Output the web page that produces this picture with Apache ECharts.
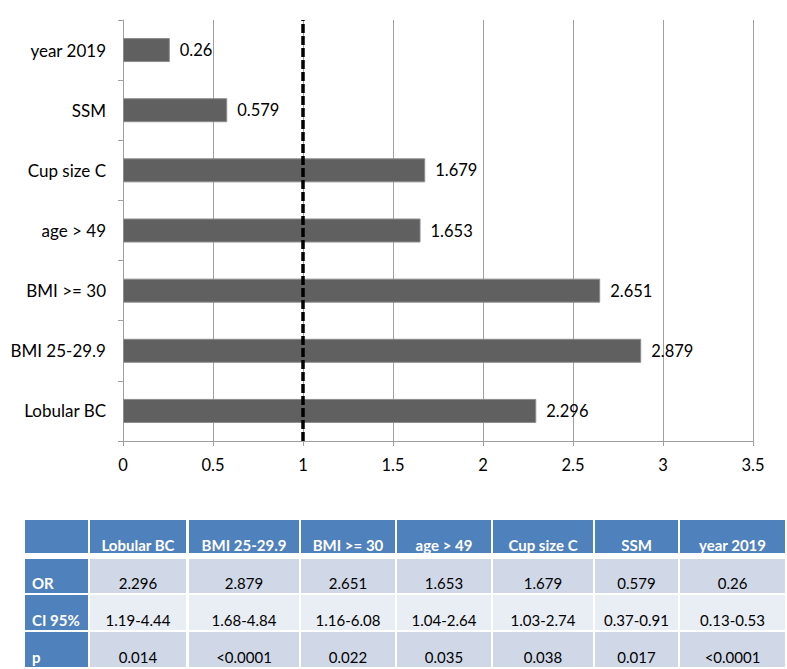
<!DOCTYPE html>
<html>
<head>
<meta charset="utf-8">
<script src="https://cdn.jsdelivr.net/npm/echarts@6/dist/echarts.min.js"></script>
<style>
html,body{margin:0;padding:0;background:#fff;}
#chart{width:787px;height:669px;}
</style>
</head>
<body>
<div id="chart"></div>
<script>
var categories = ['Lobular BC', 'BMI 25-29.9', 'BMI >= 30', 'age > 49', 'Cup size C', 'SSM', 'year 2019'];
var orValues = [2.296, 2.879, 2.651, 1.653, 1.679, 0.579, 0.26];
var ciValues = ['1.19-4.44', '1.68-4.84', '1.16-6.08', '1.04-2.64', '1.03-2.74', '0.37-0.91', '0.13-0.53'];
var pValues = ['0.014', '<0.0001', '0.022', '0.035', '0.038', '0.017', '<0.0001'];
var rowLabels = ['OR', 'CI 95%', 'p'];
var refLine = 1;
var xMin = 0, xMax = 3.5, xStep = 0.5;

// table layout (pixels)
var colX = [25, 90, 189, 301, 397, 493, 595, 680];
var colR = [88, 186, 299, 395, 491, 593, 678, 785];
var rowT = [520, 559, 595, 632];
var rowB = [553, 593, 630, 667];

var FONT = 'Lato, "Open Sans", sans-serif';
var headBlue = '#4f81bd';
var rowFill = ['#d0d8e8', '#e9edf4', '#d0d8e8'];

var graphics = [];
function addCell(c, r, fill, text, color, bold, align) {
  graphics.push({
    type: 'rect', silent: true,
    shape: {x: colX[c], y: rowT[r], width: colR[c] - colX[c], height: rowB[r] - rowT[r]},
    style: {fill: fill}
  });
  if (text !== '') {
    var cx = align === 'left' ? colX[c] + 7 : (colX[c] + colR[c]) / 2;
    graphics.push({
      type: 'text', silent: true,
      x: cx, y: rowB[r] - (r === 0 ? 8 : 10),
      style: {
        text: text, fill: color, font: (bold ? 'bold ' : '') + (bold ? '15px ' : '15px ') + FONT,
        textAlign: align, textVerticalAlign: 'middle'
      }
    });
  }
}
addCell(0, 0, headBlue, '', '#fff', true, 'center');
categories.forEach(function (c, i) { addCell(i + 1, 0, headBlue, c, '#ffffff', true, 'center'); });
var rowsData = [orValues.map(String), ciValues, pValues];
rowLabels.forEach(function (lab, r) {
  addCell(0, r + 1, headBlue, lab, '#ffffff', true, 'left');
  rowsData[r].forEach(function (v, i) { addCell(i + 1, r + 1, rowFill[r], v, '#000000', false, 'center'); });
});

var chart = echarts.init(document.getElementById('chart'), null, {renderer: 'svg'});
chart.setOption({
  animation: false,
  backgroundColor: '#ffffff',
  textStyle: {fontFamily: FONT},
  grid: {left: 123, right: 34, top: 20, bottom: 228, containLabel: false},
  xAxis: {
    type: 'value', min: xMin, max: xMax, interval: xStep,
    axisLine: {show: true, lineStyle: {color: '#a0a0a0', width: 1}},
    axisTick: {show: true, length: 5, lineStyle: {color: '#a0a0a0'}},
    splitLine: {show: true, lineStyle: {color: '#a0a0a0', width: 1}},
    axisLabel: {color: '#000', fontSize: 16.5, margin: 15, fontFamily: FONT}
  },
  yAxis: {
    type: 'category', data: categories,
    axisLine: {show: true, lineStyle: {color: '#a0a0a0', width: 1}},
    axisTick: {show: true, length: 5, lineStyle: {color: '#a0a0a0'}},
    axisLabel: {color: '#000', fontSize: 17, margin: 17, fontFamily: FONT}
  },
  series: [{
    type: 'bar', data: orValues, barWidth: 24,
    itemStyle: {color: '#606060', borderColor: '#8c8c8c', borderWidth: 1},
    label: {show: true, position: 'right', distance: 10, color: '#000', fontSize: 16.5, fontFamily: FONT},
    markLine: {
      silent: true, symbol: 'none', label: {show: false},
      lineStyle: {color: '#000', width: 3.5, type: [9, 3]},
      data: [{xAxis: refLine}]
    }
  }],
  graphic: graphics
});
</script>
</body>
</html>
